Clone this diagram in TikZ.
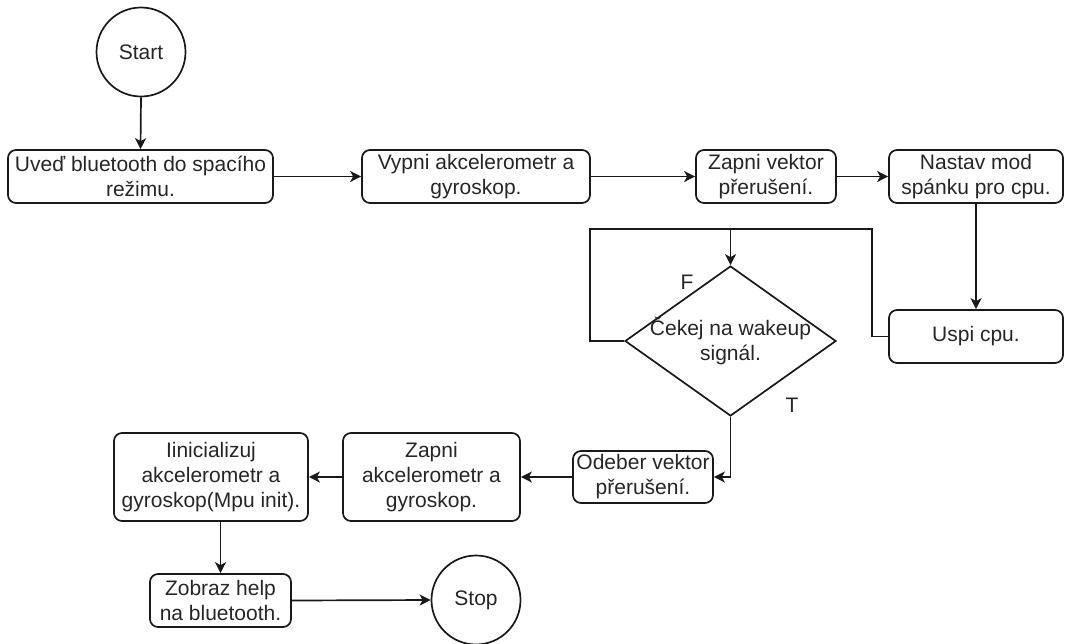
\documentclass[tikz,border=0pt]{standalone}
\usepackage{fontspec}
\setmainfont{Liberation Sans}
\usetikzlibrary{arrows.meta,shapes.geometric}
\begin{document}
\begin{tikzpicture}[x=1pt,y=-1pt,
  every node/.style={font=\fontsize{21}{25}\selectfont, inner sep=0pt, align=center, text=black!85},
  proc/.style={draw=black!90, rounded corners=8pt, line width=1.7pt},
  term/.style={draw=black!90, circle, line width=1.7pt, minimum size=89pt},
  decision/.style={draw=black!90, diamond, line width=1.7pt},
  flow/.style={draw=black!90, line width=1.7pt, -{Stealth[length=11pt,width=11pt,inset=3pt]}},
  link/.style={draw=black!90, line width=1.7pt}
]
\useasboundingbox (0,0) rectangle (1065,643);

% terminals
\node[term] (start) at (141,52) {Start};
\node[term] (stop)  at (476,600) {Stop};

% top row
\node[proc, minimum width=265pt, minimum height=53pt] (bt)   at (140.5,176.5) {Uveď bluetooth do spacího\\režimu.};
\node[proc, minimum width=228pt, minimum height=53pt] (off)  at (476,176.5)   {Vypni akcelerometr a\\gyroskop.};
\node[proc, minimum width=140pt, minimum height=53pt] (vec)  at (766,176.5)   {Zapni vektor\\přerušení.};
\node[proc, minimum width=174pt, minimum height=53pt] (mode) at (976,176.5)   {Nastav mod\\spánku pro cpu.};

% sleep and wait
\node[proc, minimum width=174pt, minimum height=53pt] (sleep) at (976,336.5) {Uspi cpu.};
\node[decision, minimum width=211pt, minimum height=150pt] (wait) at (730.5,341) {};
\node (waittext) at (730.5,341) {Čekej na wakeup\\signál.};

% bottom rows
\node[proc, minimum width=140pt, minimum height=52pt] (rem)  at (643,477)   {Odeber vektor\\přerušení.};
\node[proc, minimum width=177pt, minimum height=88pt] (on)   at (431.5,477) {Zapni\\akcelerometr a\\gyroskop.};
\node[proc, minimum width=194pt, minimum height=88pt] (init) at (211,477)   {Iinicializuj\\akcelerometr a\\gyroskop(Mpu init).};
\node[proc, minimum width=141pt, minimum height=53pt] (help) at (220.5,600.5) {Zobraz help\\na bluetooth.};

% branch labels
\node (lblF) at (687,282) {F};
\node (lblT) at (792,405) {T};

% loop corners
\coordinate (loopR) at (872,229);
\coordinate (loopL) at (590,229);
\coordinate (join)  at (730.5,229);

% connectors
\draw[flow] (start.south) -- (bt.north);
\draw[flow] (bt.east) -- (off.west);
\draw[flow] (off.east) -- (vec.west);
\draw[flow] (vec.east) -- (mode.west);
\draw[flow] (mode.south) -- (sleep.north);
\draw[flow] (sleep.west) -| (loopR) -- (join) -- (wait.north);
\draw[link] (wait.west) -| (loopL) -- (join);
\draw[flow] (wait.south) |- (rem.east);
\draw[flow] (rem.west) -- (on.east);
\draw[flow] (on.west) -- (init.east);
\draw[flow] (init.south -| help.north) -- (help.north);
\draw[flow] (help.east) -- (stop.west);
\end{tikzpicture}
\end{document}
